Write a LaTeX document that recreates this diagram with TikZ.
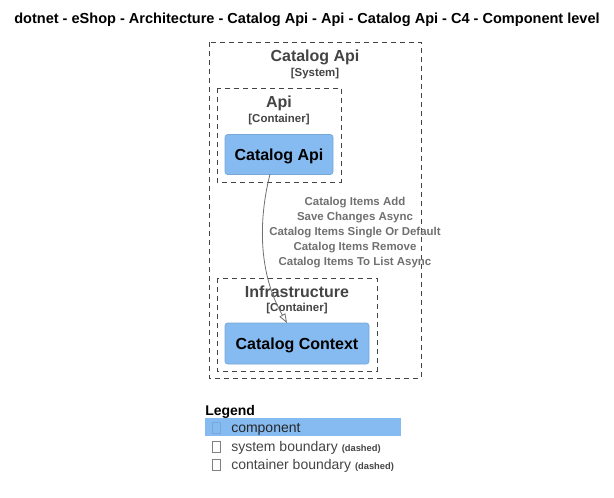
\documentclass[tikz,border=0pt]{standalone}
\usepackage{fontspec}
\setmainfont{Liberation Sans}
\usetikzlibrary{arrows.meta}
\definecolor{compblue}{HTML}{85BBF0}
\definecolor{compedge}{HTML}{78A8D8}
\definecolor{bndgray}{HTML}{444444}
\definecolor{relgray}{HTML}{707070}
\tikzset{
  boundary/.style={draw=bndgray, dash pattern=on 3.75pt off 3pt, line width=0.7pt},
  bndname/.style={text=bndgray, font=\bfseries\fontsize{12}{14}\selectfont},
  bndtype/.style={text=bndgray, font=\bfseries\fontsize{8.6}{10}\selectfont},
  component/.style={fill=compblue, draw=compedge, line width=0.5pt, rounded corners=2pt,
    font=\bfseries\fontsize{12}{14}\selectfont, inner sep=0pt, text depth=0pt},
  rellabel/.style={text=relgray, align=center, font=\bfseries\fontsize{8.6}{11.25}\selectfont},
  legendrow/.style={anchor=west, text=bndgray, font=\fontsize{10.5}{12}\selectfont, inner sep=0pt},
  glyph/.style={draw=gray, line width=0.4pt, minimum width=6pt, minimum height=8pt, inner sep=0pt}
}
\newcommand{\dashednote}{{\bfseries\fontsize{7}{8}\selectfont(dashed)}}
\begin{document}
\begin{tikzpicture}[x=0.75pt,y=-0.75pt]
        \useasboundingbox (0,0) rectangle (614,497);

        \node[font=\bfseries\fontsize{10.9}{13}\selectfont] (title) at (307,20)
          {dotnet - eShop - Architecture - Catalog Api - Api - Catalog Api - C4 - Component level};

        % system boundary
        \draw[boundary] (209,42) rectangle (421,378);
        \node[bndname] (sysname) at (315,57) {Catalog Api};
        \node[bndtype] (systype) at (315,74) {[System]};

        % containers
        \draw[boundary] (217,88) rectangle (341,182);
        \node[bndname] (apiname) at (279,103) {Api};
        \node[bndtype] (apitype) at (279,120) {[Container]};

        \draw[boundary] (217,278) rectangle (377,371);
        \node[bndname] (infname) at (297,292) {Infrastructure};
        \node[bndtype] (inftype) at (297,309) {[Container]};

        % components
        \node[component, minimum width=81pt, minimum height=30pt] (catapi) at (279,154.5) {Catalog Api};
        \node[component, minimum width=108pt, minimum height=30.75pt] (catctx) at (297,343.5) {Catalog Context};

        \coordinate (relstart) at (270,174);
        \coordinate (relend) at (287,323);
        \draw[relgray, line width=0.6pt, -{Triangle[open, length=7pt, width=5pt]}]
          (relstart) .. controls (256,230) and (262,280) .. (relend);
        \node[rellabel] (relnames) at (355,233)
          {Catalog Items Add\\Save Changes Async\\Catalog Items Single Or Default\\Catalog Items Remove\\Catalog Items To List Async};

        % legend
        \node[anchor=west, inner sep=0pt, font=\bfseries\fontsize{10.5}{12}\selectfont] (legend) at (205,412) {Legend};
        \fill[compblue] (205,418) rectangle (401,436);
        \node[glyph, draw=compedge] (g1) at (216,428) {};
        \node[legendrow, text=black!85] (l1) at (231,429) {component};
        \node[glyph] (g2) at (216,446.5) {};
        \node[legendrow] (l2) at (231,447.5) {system boundary \dashednote};
        \node[glyph] (g3) at (216,465) {};
        \node[legendrow] (l3) at (231,466) {container boundary \dashednote};
\end{tikzpicture}
\end{document}
